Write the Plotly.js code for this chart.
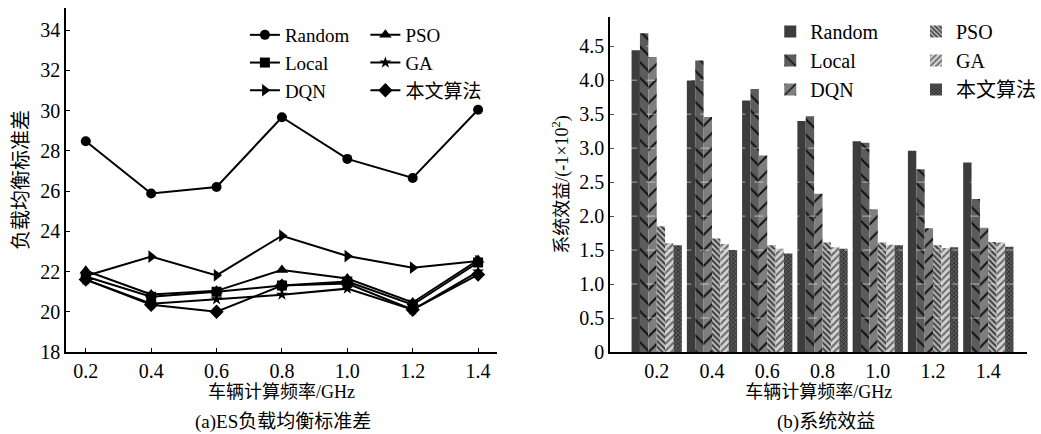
<!DOCTYPE html>
<html><head><meta charset="utf-8">
<script src="https://cdn.plot.ly/plotly-3.0.1.min.js"></script>
<style>html,body{margin:0;padding:0;background:#fff;}#chart{width:1041px;height:434px;}</style>
</head><body><div id="chart"></div>
<script>
// ---- data ----
const freqs = [0.2, 0.4, 0.6, 0.8, 1.0, 1.2, 1.4];
const freqLabels = ['0.2','0.4','0.6','0.8','1.0','1.2','1.4'];
const seriesNames = ['Random','Local','DQN','PSO','GA','本文算法'];

// (a) ES load-balance std
const stdRandom = [28.48, 25.88, 26.20, 29.67, 27.60, 26.65, 30.04];
const stdLocal  = [21.75, 20.75, 21.00, 21.30, 21.50, 20.35, 22.45];
const stdDQN    = [21.78, 22.74, 21.81, 23.78, 22.77, 22.19, 22.52];
const stdPSO    = [22.04, 20.86, 21.04, 22.08, 21.65, 20.46, 22.57];
const stdGA     = [21.60, 20.40, 20.62, 20.85, 21.15, 20.10, 22.00];
const stdOurs   = [21.60, 20.35, 20.00, 21.30, 21.40, 20.10, 21.85];

// (b) system utility
const utilRandom = [4.44, 4.00, 3.70, 3.40, 3.10, 2.96, 2.79];
const utilLocal  = [4.69, 4.29, 3.87, 3.47, 3.08, 2.69, 2.25];
const utilDQN    = [4.34, 3.46, 2.89, 2.33, 2.10, 1.82, 1.83];
const utilPSO    = [1.85, 1.67, 1.57, 1.61, 1.61, 1.57, 1.62];
const utilGA     = [1.60, 1.59, 1.52, 1.54, 1.58, 1.53, 1.61];
const utilOurs   = [1.57, 1.50, 1.45, 1.52, 1.57, 1.54, 1.55];

const leftYTicks = [18, 20, 22, 24, 26, 28, 30, 32, 34];
const rightYTicks = [0, 0.5, 1.0, 1.5, 2.0, 2.5, 3.0, 3.5, 4.0, 4.5];
const rightYTickText = ['0','0.5','1.0','1.5','2.0','2.5','3.0','3.5','4.0','4.5'];
const rightGrid = [0.5, 1.0, 1.5, 2.0, 2.5, 3.0, 3.5, 4.0, 4.5];

// ---- styling ----
const FONT = '"Liberation Serif", "DejaVu Serif", "Noto Sans CJK SC", serif';
const leftStd = [stdRandom, stdLocal, stdDQN, stdPSO, stdGA, stdOurs];
const leftSymbols = ['circle','square','triangle-right','triangle-up','star','diamond'];
const leftSizes = [10, 10, 11, 11, 9, 11];
const leftLegends = ['legend','legend','legend','legend2','legend2','legend2'];

const traces = [];
leftStd.forEach((vals, i) => {
  traces.push({
    type: 'scatter', mode: 'lines+markers',
    x: freqs, y: vals, name: seriesNames[i],
    xaxis: 'x', yaxis: 'y',
    line: {color: '#000', width: 2},
    marker: {symbol: leftSymbols[i], size: leftSizes[i], color: '#000'},
    legend: leftLegends[i], legendgroup: 'L' + i
  });
});

const rightVals = [utilRandom, utilLocal, utilDQN, utilPSO, utilGA, utilOurs];
const barPatterns = [
  {shape: '', bgcolor: '#3c3c3c'},
  {shape: '\\', bgcolor: '#5c5c5c', fgcolor: '#111', size: 11, solidity: 0.18},
  {shape: '/', bgcolor: '#7e7e7e', fgcolor: '#111', size: 11, solidity: 0.18},
  {shape: '\\', bgcolor: '#b4b4b4', fgcolor: '#333', size: 4, solidity: 0.45},
  {shape: '/', bgcolor: '#d2d2d2', fgcolor: '#666', size: 5, solidity: 0.4},
  {shape: 'x', bgcolor: '#5a5a5a', fgcolor: '#1e1e1e', size: 3, solidity: 0.4}
];
const barColors = ['#3c3c3c','#5c5c5c','#7e7e7e','#b4b4b4','#d2d2d2','#5a5a5a'];
const rightLegends = ['legend3','legend3','legend3','legend4','legend4','legend4'];
rightVals.forEach((vals, i) => {
  const pat = Object.assign({fillmode: 'replace'}, barPatterns[i]);
  traces.push({
    type: 'bar', x: freqLabels, y: vals, name: seriesNames[i],
    xaxis: 'x2', yaxis: 'y2',
    marker: {color: barColors[i], pattern: pat, line: {width: 0}},
    legend: rightLegends[i], legendgroup: 'R' + i
  });
});

const shapes = rightGrid.map(v => ({
  type: 'line', xref: 'x2 domain', x0: 0, x1: 1, yref: 'y2', y0: v, y1: v,
  line: {color: 'rgba(255,255,255,0.55)', width: 1, dash: 'dash'}, layer: 'above'
}));

const legCommon = {
  bgcolor: 'rgba(0,0,0,0)', borderwidth: 0, orientation: 'v',
  traceorder: 'grouped', xanchor: 'left', yanchor: 'top', tracegroupgap: 0
};
const legFontL = {family: FONT, size: 19, color: '#000'};
const legFontR = {family: FONT, size: 20, color: '#000'};

const layout = {
  width: 1041, height: 434,
  margin: {l: 0, r: 0, t: 0, b: 0},
  paper_bgcolor: '#fff', plot_bgcolor: '#fff',
  font: {family: FONT, size: 18, color: '#000'},
  barmode: 'group', bargap: 0.09, bargroupgap: 0,
  xaxis: {
    domain: [67/1041, 503/1041], anchor: 'y',
    range: [0.14, 1.457], tickvals: freqs, ticktext: freqLabels,
    showline: true, linecolor: '#000', linewidth: 2, mirror: false,
    ticks: 'inside', ticklen: 4, tickcolor: '#000', showgrid: false, zeroline: false,
    tickfont: {family: FONT, size: 20},
    title: {text: '车辆计算频率/GHz', font: {family: FONT, size: 18}, standoff: 4}
  },
  yaxis: {
    domain: [1 - 352/434, 1 - 8/434], anchor: 'x',
    range: [18, 35.1], tickvals: leftYTicks,
    showline: true, linecolor: '#000', linewidth: 2,
    ticks: 'inside', ticklen: 4, tickcolor: '#000', showgrid: false, zeroline: false,
    tickfont: {family: FONT, size: 20},
    title: {text: '负载均衡标准差', font: {family: FONT, size: 20}, standoff: 6}
  },
  xaxis2: {
    domain: [618/1041, 1040/1041], anchor: 'y2', type: 'category',
    range: [-0.84, 6.7],
    showline: true, linecolor: '#000', linewidth: 2,
    ticks: '', showgrid: false, zeroline: false,
    tickfont: {family: FONT, size: 20},
    title: {text: '车辆计算频率/GHz', font: {family: FONT, size: 18}, standoff: 4}
  },
  yaxis2: {
    domain: [1 - 352/434, 1 - 17/434], anchor: 'x2',
    range: [0, 4.93], tickvals: rightYTicks, ticktext: rightYTickText,
    showline: true, linecolor: '#000', linewidth: 2,
    ticks: 'inside', ticklen: 4, tickcolor: '#000', showgrid: false, zeroline: false,
    tickfont: {family: FONT, size: 20},
    title: {text: '系统效益/(-1×10<sup>2</sup>)', font: {family: FONT, size: 18}, standoff: 6}
  },
  legend:  Object.assign({}, legCommon, {x: 248/1041, y: 1 - 16/434, font: legFontL}),
  legend2: Object.assign({}, legCommon, {x: 370/1041, y: 1 - 16/434, font: legFontL}),
  legend3: Object.assign({}, legCommon, {x: 780/1041, y: 1 - 12/434, font: legFontR}),
  legend4: Object.assign({}, legCommon, {x: 928/1041, y: 1 - 12/434, font: legFontR}),
  showlegend: true,
  shapes: shapes,
  annotations: [
    {text: '(a)ES负载均衡标准差', xref: 'paper', yref: 'paper', x: 287/1041, y: 1 - 422/434,
     xanchor: 'center', yanchor: 'middle', showarrow: false, font: {family: FONT, size: 19}},
    {text: '(b)系统效益', xref: 'paper', yref: 'paper', x: 836/1041, y: 1 - 422/434,
     xanchor: 'center', yanchor: 'middle', showarrow: false, font: {family: FONT, size: 19}}
  ]
};

Plotly.newPlot('chart', traces, layout, {displayModeBar: false, staticPlot: true});
</script></body></html>
